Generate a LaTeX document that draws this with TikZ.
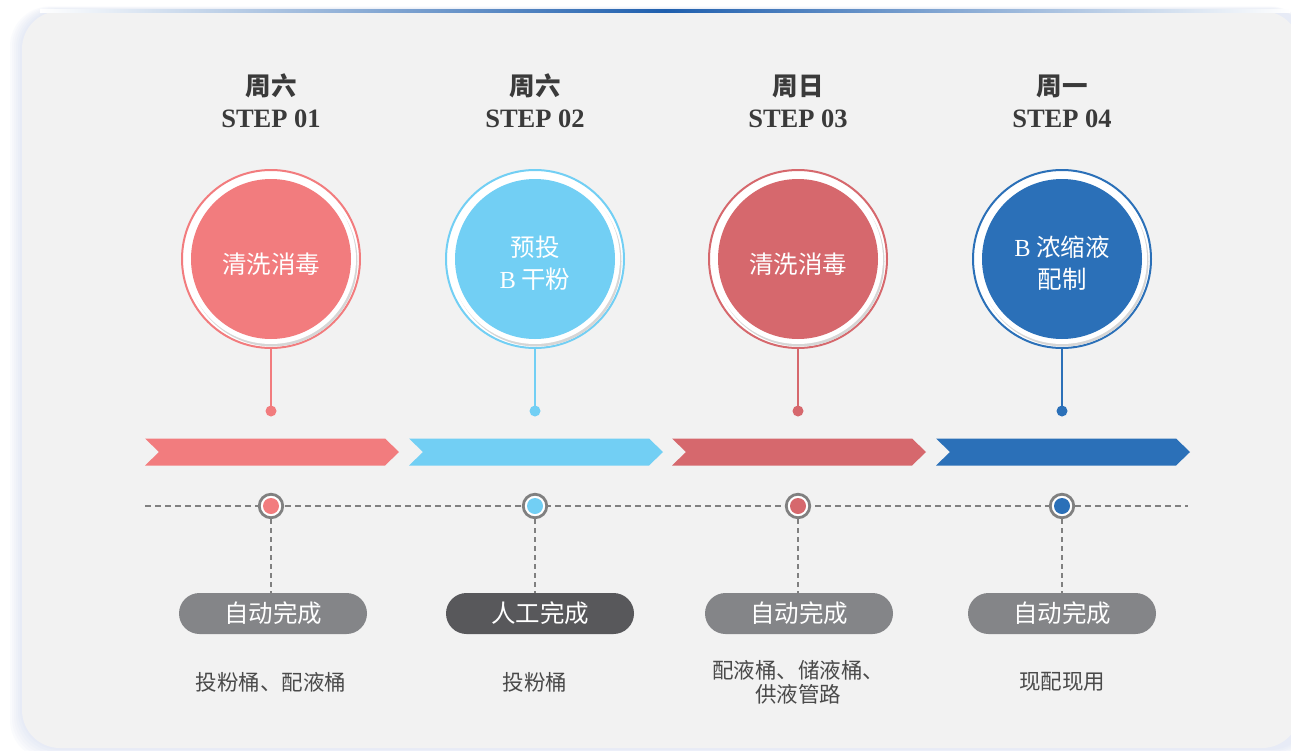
\documentclass[tikz,border=0pt]{standalone}
\usepackage{fontspec}
\setmainfont{Liberation Serif}
\newfontfamily\cjk{Noto Sans CJK SC}
\definecolor{panelc}{HTML}{F2F2F2}
\definecolor{glowc}{HTML}{B8C4E8}
\definecolor{topblue}{HTML}{1F5FAE}
\definecolor{cA}{HTML}{F27C7E}
\definecolor{cB}{HTML}{72CFF4}
\definecolor{cC}{HTML}{D6686D}
\definecolor{cD}{HTML}{2B70B8}
\definecolor{pillauto}{HTML}{848588}
\definecolor{pillman}{HTML}{58585B}
\definecolor{headc}{HTML}{3A3A3A}
\definecolor{descc}{HTML}{4A4A4A}
\definecolor{linec}{HTML}{808080}
\tikzset{
  headtxt/.style={text=headc, font=\cjk\bfseries\fontsize{25.5}{28}\selectfont, inner sep=0},
  steptxt/.style={text=headc, font=\bfseries\fontsize{26.5}{28}\selectfont, inner sep=0},
  ringnode/.style={circle, minimum size=178pt, inner sep=0, line width=2pt, fill=white},
  discnode/.style={circle, minimum size=160pt, inner sep=0},
  disctxt/.style={text=white, font=\cjk\fontsize{24.5}{32}\selectfont, align=center, inner sep=0},
  stemdot/.style={circle, minimum size=11pt, inner sep=0},
  marker/.style={circle, minimum size=23.5pt, inner sep=0, draw=linec, line width=2.8pt, fill=white},
  markdot/.style={circle, minimum size=16pt, inner sep=0},
  pillbox/.style={rectangle, rounded corners=20.5pt, minimum width=188pt, minimum height=41pt, inner sep=0, text=white, font=\cjk\fontsize{24.5}{26}\selectfont},
  desctxt/.style={text=descc, font=\cjk\fontsize{21.5}{24}\selectfont, align=center, inner sep=0},
  dashline/.style={linec, line width=2.5pt, dash pattern=on 6pt off 4pt},
  dotline/.style={linec, line width=2.5pt, dash pattern=on 5pt off 4pt},
}
\begin{document}
\begin{tikzpicture}[x=1pt,y=-1pt]
\useasboundingbox (0,0) rectangle (1291,750);
\fill[white] (0,0) rectangle (1291,750);
% panel glow
\foreach \k in {12,10,...,2}
  \fill[glowc, opacity=0.06, rounded corners=40pt] (22-\k,10-0.3*\k) rectangle (1310,748+\k);
\fill[panelc, rounded corners=38pt] (22,11) rectangle (1300,748);
% top gradient line
\shade[left color=white, right color=white, middle color=topblue] (40,9) rectangle (1290,12);
% dashed timeline
\coordinate (tl) at (145,506);
\coordinate (tr) at (1188,506);
\draw[dashline] (tl) -- (tr);
% columns
\foreach \x/\col/\n/\day/\pc/\ptxt/\px in {271/cA/1/周六/pillauto/自动完成/273, 535/cB/2/周六/pillman/人工完成/540, 798/cC/3/周日/pillauto/自动完成/799, 1062/cD/4/周一/pillauto/自动完成/1062}{
  \node[headtxt] (h\n) at (\x,86) {\day};
  \node[steptxt] (s\n) at (\x,119) {STEP 0\n};
  \node[ringnode, draw=\col] (ring\n) at (\x,259) {};
  \fill[black!16] (\x+1.5,261.5) circle (85);
  \fill[white] (\x,259) circle (85);
  \node[discnode, fill=\col] (disc\n) at (\x,259) {};
  \node[stemdot, fill=\col] (dot\n) at (\x,411) {};
  \draw[\col, line width=2.2pt] (ring\n.south) -- (dot\n.center);
  \fill[\col] (\x-126,438.5) -- (\x+114,438.5) -- (\x+128,452) -- (\x+114,465.5) -- (\x-126,465.5) -- (\x-112,452) -- cycle;
  \node[marker] (m\n) at (\x,506) {};
  \node[markdot, fill=\col] (md\n) at (\x,506) {};
  \node[pillbox, fill=\pc] (p\n) at (\px,613.5) {\ptxt};
  \draw[dotline] (m\n.south) -- (m\n.south |- p\n.north);
}
% circle texts
\node[disctxt] (t1) at (271,264) {清洗消毒};
\node[disctxt] (t2) at (535,263) {预投\\{\rmfamily B} 干粉};
\node[disctxt] (t3) at (798,264) {清洗消毒};
\node[disctxt] (t4) at (1062,263) {{\rmfamily B} 浓缩液\\配制};
% descriptions
\node[desctxt] (d1) at (271,682) {投粉桶、配液桶};
\node[desctxt] (d2) at (535,682) {投粉桶};
\node[desctxt] (d3) at (798,682) {配液桶、储液桶、\\供液管路};
\node[desctxt] (d4) at (1062,682) {现配现用};
\end{tikzpicture}
\end{document}
